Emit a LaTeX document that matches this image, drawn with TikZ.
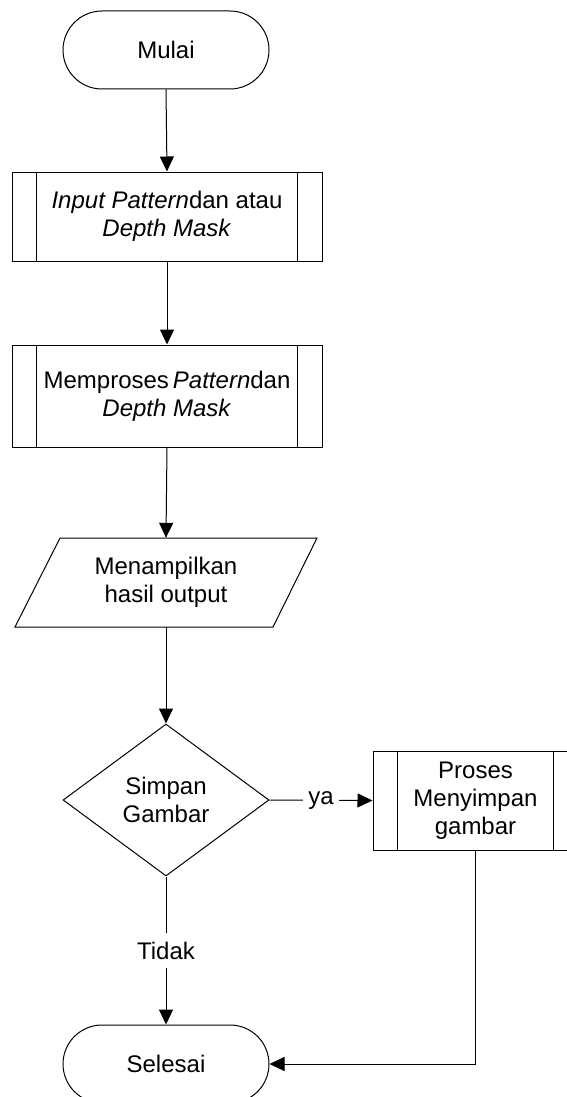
\documentclass[tikz,border=0pt]{standalone}
\usepackage{fontspec}
\setmainfont{Liberation Sans}
\usetikzlibrary{arrows.meta,shapes.geometric}
\begin{document}
\begin{tikzpicture}[x=1pt,y=-1pt,
  every node/.style={font=\fontsize{24}{28}\selectfont},
  line/.style={line width=1pt,draw=black},
  arr/.style={line, -{Triangle[length=15pt,width=14pt]}},
  term/.style={line, rectangle, rounded corners=39pt, minimum width=206pt, minimum height=78pt, inner sep=0pt},
  predef/.style={line, rectangle, minimum width=310pt, inner sep=0pt, align=center},
  dec/.style={line, diamond, minimum width=206pt, minimum height=152pt, aspect=1.355, inner sep=0pt, align=center},
  lbl/.style={fill=white, inner xsep=5pt, inner ysep=8.5pt}
]
\useasboundingbox (0,0) rectangle (567,1097);
\clip (0,0) rectangle (567,1097);

\node[term] (mulai) at (166,50) {Mulai};
\node[predef, minimum height=89pt] (b1) at (167,216.5) {\textit{Input Pattern}dan atau\\\textit{Depth Mask}};
\node[predef, minimum height=102pt] (b2) at (167,396) {Memproses\,\textit{Pattern}dan\\\textit{Depth Mask}};
\draw[line] (60,538) -- (317,538) -- (273,627) -- (15,627) -- cycle;
\node[minimum height=89pt, minimum width=200pt, inner sep=0pt, align=center] (out) at (166,582.5) {Menampilkan\\hasil output};
\node[dec] (dm) at (166,800) {Simpan\\Gambar};
\node[predef, minimum width=205pt, minimum height=99pt] (pb) at (475.5,800.5) {Proses\\Menyimpan\\gambar};
\node[term] (sel) at (166,1064) {Selesai};

\foreach \n in {b1,b2,pb}{
  \draw[line] ([xshift=25pt]\n.north west) -- ([xshift=25pt]\n.south west);
  \draw[line] ([xshift=-25pt]\n.north east) -- ([xshift=-25pt]\n.south east);
}

\draw[arr] (mulai.south) -- (b1.north);
\draw[arr] (b1.south) -- (b2.north);
\draw[arr] (b2.south) -- (out.north);
\draw[arr] (out.south) -- (dm.north);
\draw[arr] (dm.east) -- node[lbl] (ya) {ya} (pb.west);
\draw[arr] (dm.south) -- node[lbl] (tidak) {Tidak} (sel.north);
\draw[arr] (pb.south) |- (sel.east);
\end{tikzpicture}
\end{document}
